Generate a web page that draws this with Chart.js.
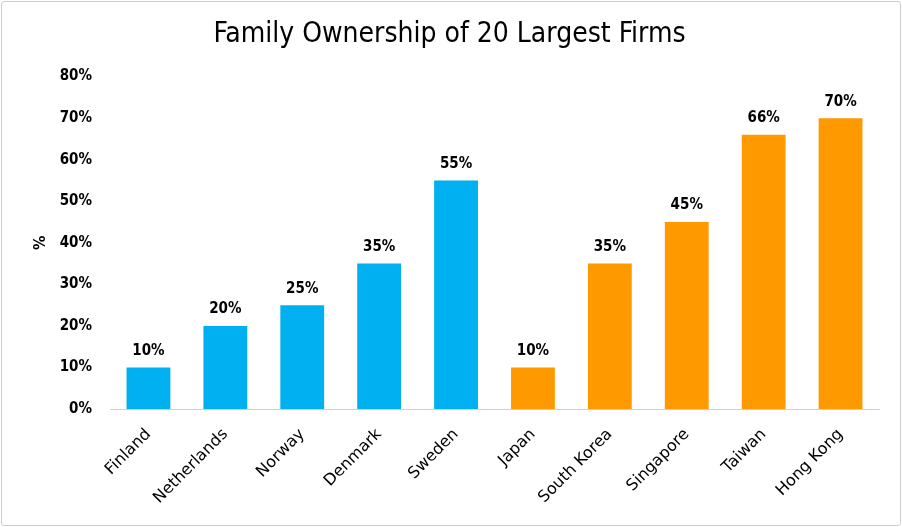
<!DOCTYPE html>
<html lang="en">
<head>
  <meta charset="UTF-8">
  <title>Family Ownership of 20 Largest Firms</title>
  <script src="https://cdn.jsdelivr.net/npm/chart.js@4.4.0/dist/chart.umd.min.js"></script>
  <style>
    html, body { margin: 0; padding: 0; background: #fff; }
    .frame {
      position: absolute; left: 1px; top: 1px;
      width: 898px; height: 523px;
      border: 1px solid #cfcfcf; border-radius: 3px;
    }
    .wrap { position: absolute; left: 0; top: 0; width: 902px; height: 527px; }
  </style>
</head>
<body>
  <div class="frame"></div>
  <div class="wrap"><canvas id="chart" width="902" height="527"></canvas></div>

  <script>
    // datos
    const categories = ['Finland', 'Netherlands', 'Norway', 'Denmark', 'Sweden',
                        'Japan', 'South Korea', 'Singapore', 'Taiwan', 'Hong Kong'];
    const values = [10, 20, 25, 35, 55, 10, 35, 45, 66, 70];
    const groups = ['Europe', 'Europe', 'Europe', 'Europe', 'Europe',
                    'Asia', 'Asia', 'Asia', 'Asia', 'Asia'];
    const yTicks = [0, 10, 20, 30, 40, 50, 60, 70, 80];

    const groupColors = { Europe: '#00b0f0', Asia: '#ff9900' };
    const dinFont = '"DejaVu Sans Condensed", "DejaVu Sans", sans-serif';

    // etiquetas encima de cada barra
    const barLabels = {
      id: 'barLabels',
      afterDatasetsDraw(chart) {
        const ctx = chart.ctx;
        const meta = chart.getDatasetMeta(0);
        ctx.save();
        ctx.font = 'bold 15px ' + dinFont;
        ctx.fillStyle = '#000';
        ctx.textAlign = 'center';
        ctx.textBaseline = 'bottom';
        meta.data.forEach((bar, i) => {
          ctx.fillText(values[i] + '%', bar.x, bar.y - 9);
        });
        ctx.restore();
      }
    };

    new Chart(document.getElementById('chart'), {
      type: 'bar',
      data: {
        labels: categories,
        datasets: [{
          data: values,
          backgroundColor: groups.map(g => groupColors[g]),
          categoryPercentage: 1,
          barPercentage: 0.57
        }]
      },
      options: {
        responsive: false,
        animation: false,
        layout: { padding: { left: 20, right: 23, top: 0, bottom: 10 } },
        plugins: {
          legend: { display: false },
          tooltip: { enabled: false },
          title: {
            display: true,
            text: 'Family Ownership of 20 Largest Firms',
            color: '#000',
            font: { family: dinFont, size: 28, weight: 'normal' },
            padding: { top: 18, bottom: 25 }
          }
        },
        scales: {
          x: {
            grid: { display: false, drawTicks: false },
            border: { display: true, color: '#d0d0d0', width: 1 },
            ticks: {
              color: '#000',
              font: { family: '"DejaVu Sans", sans-serif', size: 16 },
              minRotation: 45, maxRotation: 45,
              padding: 16
            },
            afterFit(scale) { scale.height = 108; }
          },
          y: {
            min: 0, max: 80,
            afterBuildTicks(scale) { scale.ticks = yTicks.map(v => ({ value: v })); },
            grid: { display: false, drawTicks: false },
            border: { display: false },
            ticks: {
              color: '#000',
              font: { family: dinFont, size: 15, weight: 'bold' },
              padding: 18,
              callback: v => v + '%'
            },
            title: {
              display: true,
              text: '%',
              color: '#000',
              font: { family: dinFont, size: 16, weight: 'bold' },
              padding: { top: 11, bottom: 0 }
            },
            afterFit(scale) { scale.width = 90; }
          }
        }
      },
      plugins: [barLabels]
    });
  </script>
</body>
</html>
